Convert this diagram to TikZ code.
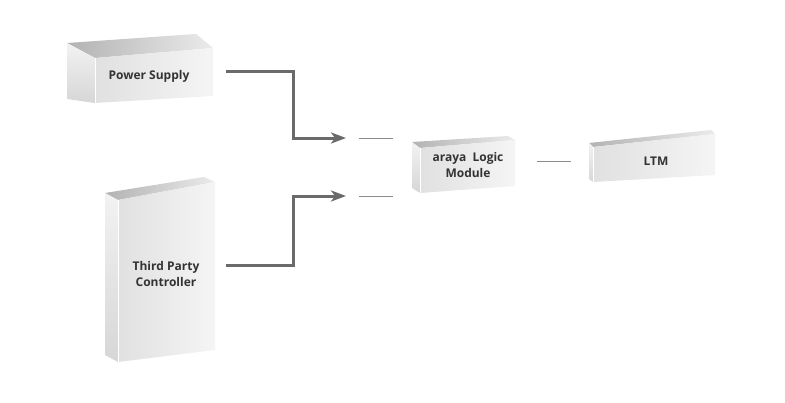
\documentclass[tikz,border=0pt]{standalone}
\usepackage{fontspec}
\setmainfont{Open Sans}
\usetikzlibrary{arrows.meta}
\definecolor{conncol}{HTML}{6A6A6A}
\definecolor{dashcol}{HTML}{8C8C8C}
\tikzset{
  lbl/.style={font=\fontsize{12}{15.5}\selectfont\bfseries, text=black!80, align=center, inner sep=1pt},
  conn/.style={draw=conncol, line width=3pt, line join=miter, -{Stealth[length=15pt, width=11pt, inset=4pt]}},
  stub/.style={draw=dashcol, line width=1pt},
  topface/.style={left color=black!30, right color=black!8},
  sideface/.style={top color=black!5, bottom color=black!16},
  frontface/.style={left color=black!12, right color=black!4},
  edge/.style={draw=white, line width=0.7pt}
}
\begin{document}
\begin{tikzpicture}[x=1pt,y=-1pt]
\useasboundingbox[fill=white] (0,0) rectangle (785,402);
% ---------- Power Supply box
\shade[topface] (67,43) -- (95,58) -- (213,48) -- (196,34) -- cycle;
\shade[sideface] (67,43) -- (95,58) -- (95,103) -- (67,99) -- cycle;
\shade[frontface] (95,58) -- (213,48) -- (213,96) -- (95,103) -- cycle;
\draw[edge] (95,58) -- (95,103);
% ---------- Third Party Controller box
\shade[topface] (105,193) -- (118,200) -- (215,182) -- (204,177) -- cycle;
\shade[sideface] (105,193) -- (118,200) -- (118,362) -- (105,355) -- cycle;
\shade[frontface] (118,200) -- (215,182) -- (215,350) -- (118,362) -- cycle;
\draw[edge] (118,200) -- (118,362);
% ---------- araya Logic Module box
\shade[topface] (412,142) -- (420,148) -- (515,140) -- (508,136) -- cycle;
\shade[sideface] (412,142) -- (420,148) -- (420,193) -- (412,188) -- cycle;
\shade[frontface] (420,148) -- (515,140) -- (515,186) -- (420,193) -- cycle;
\draw[edge] (420,148) -- (420,193);
% ---------- LTM box
\shade[topface] (589,143) -- (593,147) -- (715,134) -- (711,130) -- cycle;
\shade[sideface] (589,143) -- (593,147) -- (593,182) -- (589,179) -- cycle;
\shade[frontface] (593,147) -- (715,134) -- (715,175) -- (593,182) -- cycle;
\draw[edge] (593,147) -- (593,182);
% ---------- labels
\node[lbl] (ps) at (149,76) {Power Supply};
\node[lbl] (tpc) at (166,274) {Third Party\\Controller};
\node[lbl] (alm) at (468,165) {araya\ \ Logic\\Module};
\node[lbl] (ltm) at (656,161) {LTM};
% ---------- connector end points
\coordinate (psout) at (226,71);
\coordinate (psin) at (346,138);
\coordinate (tpcout) at (226,265);
\coordinate (tpcin) at (346,196);
\coordinate (s1a) at (359,138); \coordinate (s1b) at (393,138);
\coordinate (s2a) at (359,196); \coordinate (s2b) at (393,196);
\coordinate (s3a) at (537,161); \coordinate (s3b) at (571,161);
% ---------- connectors
\draw[conn] (psout) -- ++(67,0) |- (psin);
\draw[conn] (tpcout) -- ++(67,0) |- (tpcin);
\draw[stub] (s1a) -- (s1b);
\draw[stub] (s2a) -- (s2b);
\draw[stub] (s3a) -- (s3b);
\end{tikzpicture}
\end{document}
